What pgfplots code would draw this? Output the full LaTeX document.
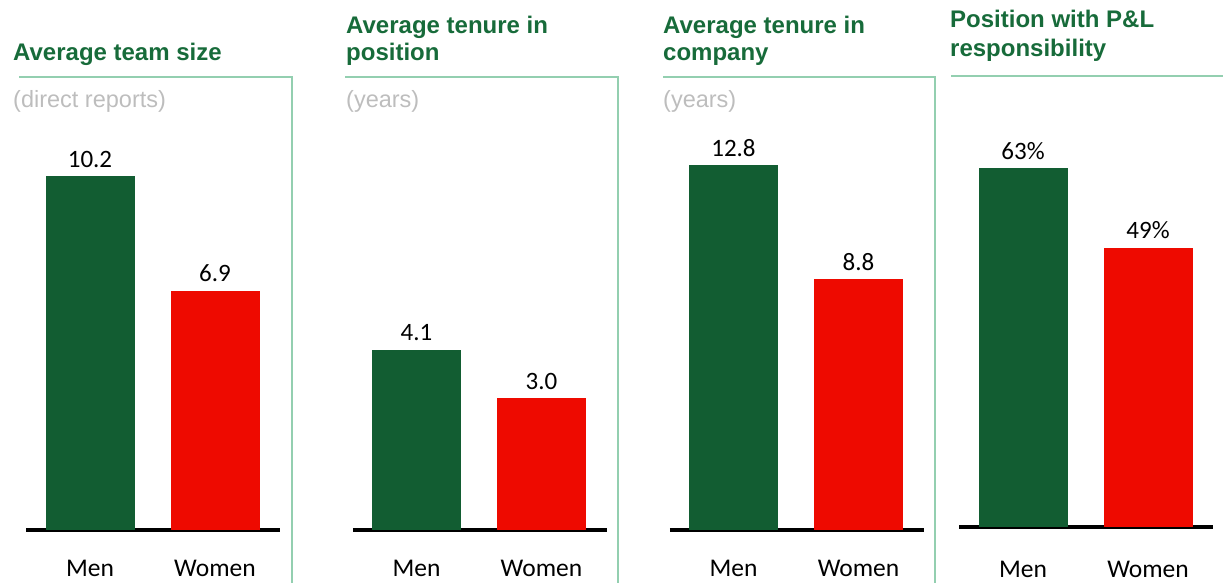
\documentclass[border=0pt]{standalone}
\usepackage{fontspec}
\setmainfont{Liberation Sans}
\newfontfamily\carlito{Carlito}
\usepackage{pgfplots}
\pgfplotsset{compat=1.18}

\definecolor{mgreen}{HTML}{125D32}
\definecolor{mred}{HTML}{EE0A00}
\definecolor{tgreen}{HTML}{176B3A}
\definecolor{lgreen}{HTML}{93CFB0}
\definecolor{sgray}{HTML}{BDBDBD}

\pgfplotsset{
  panel/.style={
    scale only axis, clip=false,
    x=125bp, xmin=-0.51, xmax=1.52, ymin=0,
    axis x line*=bottom, axis y line=none,
    x axis line style={black, line width=3bp},
    xtick={0,1}, xticklabels={Men,Women},
    major tick length=0pt,
    xticklabel style={font=\carlito\fontsize{25.5bp}{30bp}\selectfont, yshift=-27bp},
    ybar, bar width=89bp,
    nodes near coords,
    every node near coord/.append style={font=\carlito\fontsize{25bp}{30bp}\selectfont, text=black, yshift=5bp},
    /pgf/number format/assume math mode=true,
    /pgf/number format/.cd, fixed, fixed zerofill, precision=1,
  },
  men/.style={fill=mgreen, draw=none, bar shift=0pt},
  women/.style={fill=mred, draw=none, bar shift=0pt},
}

\newcommand{\ttl}{\bfseries\fontsize{24bp}{28bp}\selectfont}
\newcommand{\sub}{\fontsize{23.5bp}{27bp}\selectfont}

\begin{document}
\begin{tikzpicture}
\useasboundingbox (0,0) rectangle (1223bp,583bp);

% divider lines
\draw[lgreen, line width=2bp] (19bp,505.5bp) -- (292bp,505.5bp) -- (292bp,0bp);
\draw[lgreen, line width=2bp] (345bp,505.5bp) -- (618bp,505.5bp) -- (618bp,0bp);
\draw[lgreen, line width=2bp] (663bp,505.5bp) -- (935bp,505.5bp) -- (935bp,0bp);
\draw[lgreen, line width=2bp] (951bp,507bp) -- (1223bp,507bp);

% titles
\begin{scope}[every node/.style={anchor=base west, inner sep=0pt, text=tgreen, font=\ttl}]
\node at (13bp,522bp) {Average team size};
\node at (346bp,549bp) {Average tenure in};
\node at (346bp,522bp) {position};
\node at (663bp,549bp) {Average tenure in};
\node at (663bp,522bp) {company};
\node at (950bp,555bp) {Position with P\&L};
\node at (950bp,526.5bp) {responsibility};
\end{scope}
\begin{scope}[every node/.style={anchor=base west, inner sep=0pt, text=sgray, font=\sub}]
\node at (13bp,475.5bp) {(direct reports)};
\node at (346bp,475.5bp) {(years)};
\node at (663bp,475.5bp) {(years)};
\end{scope}

% panel 1
\begin{axis}[panel, y=34.7bp, ymax=12, at={(26.25bp,53bp)}, anchor=south west]
\addplot[men] coordinates {(0,10.2)};
\addplot[women] coordinates {(1,6.9)};
\end{axis}

% panel 2
\begin{axis}[panel, y=44bp, ymax=9, at={(352.75bp,53bp)}, anchor=south west]
\addplot[men] coordinates {(0,4.1)};
\addplot[women] coordinates {(1,3.0)};
\end{axis}

% panel 3
\begin{axis}[panel, y=28.5bp, ymax=14, at={(669.75bp,53bp)}, anchor=south west]
\addplot[men] coordinates {(0,12.8)};
\addplot[women] coordinates {(1,8.8)};
\end{axis}

% panel 4
\begin{axis}[panel, y=5.7bp, ymax=70, at={(959.25bp,56bp)}, anchor=south west,
  nodes near coords={\pgfmathprintnumber[fixed,precision=0]{\pgfplotspointmeta}\%},
  xticklabel style={yshift=-4bp}]
\addplot[men] coordinates {(0,63)};
\addplot[women] coordinates {(1,49)};
\end{axis}
\end{tikzpicture}
\end{document}
